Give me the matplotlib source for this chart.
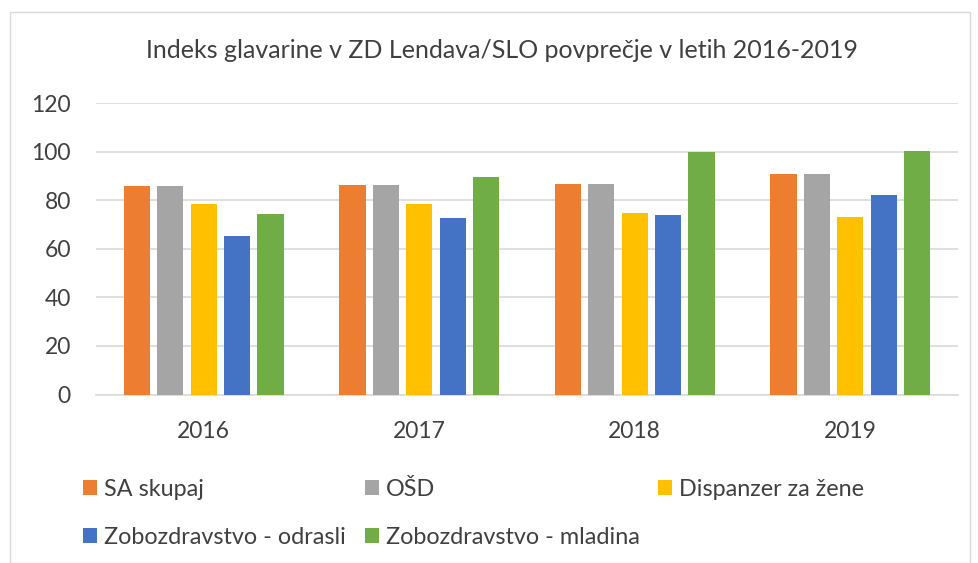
import numpy as np
import matplotlib.pyplot as plt
from matplotlib.patches import Rectangle

plt.rcParams['font.family'] = ['Lato', 'DejaVu Sans']

# data
years = ['2016', '2017', '2018', '2019']
series_names = ['SA skupaj', 'OŠD', 'Dispanzer za žene',
                'Zobozdravstvo - odrasli', 'Zobozdravstvo - mladina']
sa_skupaj = [85.7, 86.4, 86.7, 90.7]
osd = [85.7, 86.4, 86.7, 90.7]
dispanzer = [78.3, 78.6, 74.6, 73.1]
zob_odrasli = [65.1, 72.5, 73.8, 82.3]
zob_mladina = [74.3, 89.4, 100.0, 100.3]
colors = ['#ED7D31', '#A5A5A5', '#FFC000', '#4472C4', '#70AD47']

values = [sa_skupaj, osd, dispanzer, zob_odrasli, zob_mladina]

fig = plt.figure(figsize=(9.79, 5.63), dpi=100)
ax = fig.add_axes([96 / 979, 1 - 394.5 / 563, (958 - 96) / 979, (394.5 - 103) / 563])

x = np.arange(len(years))
width = 0.122
step = 0.155
handles = []
for i, (name, vals, col) in enumerate(zip(series_names, values, colors)):
    b = ax.bar(x + (i - 2) * step, vals, width, color=col, label=name, zorder=3)
    handles.append(b)

ax.set_xlim(-0.5, 3.5)
ax.set_ylim(0, 120)
ax.set_yticks(range(0, 121, 20))
ax.set_xticks(x)
ax.set_xticklabels(years)
ax.tick_params(length=0, labelsize=16.5, colors='#404040')
ax.tick_params(axis='y', pad=18)
ax.tick_params(axis='x', pad=19)
ax.grid(axis='y', color='#d9d9d9', linewidth=1.2, zorder=0)
for s in ['left', 'right', 'top']:
    ax.spines[s].set_visible(False)
ax.spines['bottom'].set_color('#d9d9d9')
ax.spines['bottom'].set_linewidth(1.2)

fig.text(502 / 979, 1 - 50 / 563, 'Indeks glavarine v ZD Lendava/SLO povprečje v letih 2016-2019',
         ha='center', va='center', fontsize=18, color='#404040')

# legend laid out row by row like the original
order = [0, 3, 1, 4, 2]
leg = fig.legend([handles[k] for k in order], [series_names[k] for k in order],
                 ncol=3, loc='upper left', bbox_to_anchor=(83 / 979, 1 - 479 / 563),
                 frameon=False, fontsize=16.8, handlelength=0.6, handleheight=0.6,
                 handletextpad=0.3, columnspacing=0.8, labelspacing=1.15, borderpad=0,
                 borderaxespad=0)
for t in leg.get_texts():
    t.set_color('#404040')

fig.patches.append(Rectangle((10 / 979, 0), 960 / 979, 1 - 12 / 563, transform=fig.transFigure,
                             fill=False, edgecolor='#d9d9d9', linewidth=1))

fig.savefig('out.png', dpi=100)
